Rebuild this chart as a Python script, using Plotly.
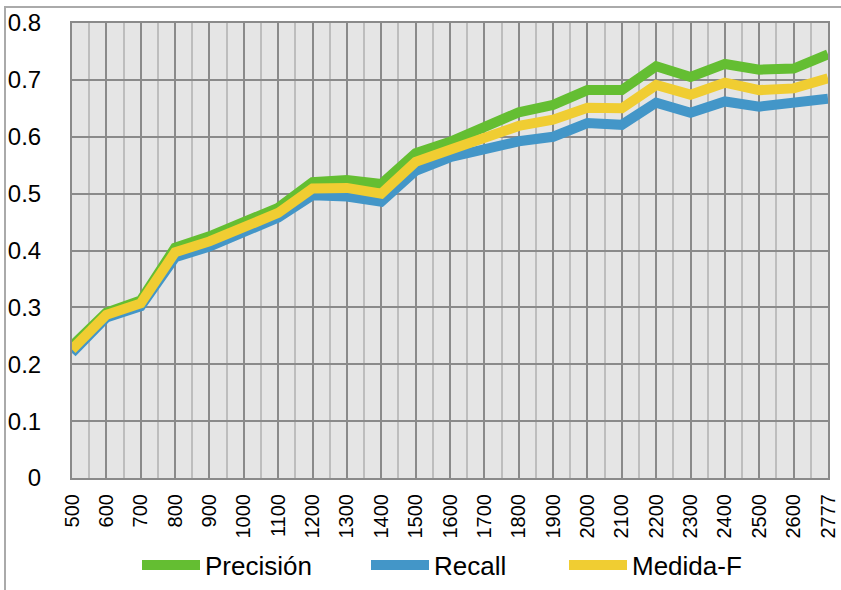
import plotly.graph_objects as go

categories = ["500", "600", "700", "800", "900", "1000", "1100", "1200", "1300", "1400",
              "1500", "1600", "1700", "1800", "1900", "2000", "2100", "2200", "2300",
              "2400", "2500", "2600", "2777"]
precision = [0.232, 0.291, 0.312, 0.405, 0.425, 0.449, 0.475, 0.520, 0.524, 0.517,
             0.571, 0.591, 0.619, 0.643, 0.656, 0.682, 0.682, 0.724, 0.705,
             0.728, 0.718, 0.720, 0.745]
recall = [0.220, 0.282, 0.302, 0.388, 0.407, 0.432, 0.458, 0.497, 0.495, 0.486,
          0.540, 0.564, 0.577, 0.592, 0.600, 0.624, 0.621, 0.660, 0.642,
          0.662, 0.653, 0.660, 0.667]
fmeasure = [0.226, 0.287, 0.307, 0.397, 0.416, 0.440, 0.466, 0.509, 0.510, 0.500,
            0.556, 0.577, 0.598, 0.619, 0.630, 0.651, 0.650, 0.691, 0.674,
            0.695, 0.682, 0.685, 0.703]
series_names = ["Precisión", "Recall", "Medida-F"]
colors = ["#64BE32", "#4396C8", "#F0CD32"]
legend_ids = ["legend", "legend2", "legend3"]
legend_x_px = [137, 366, 564]

L, R, T, B = 72, 13, 23, 112
W, H = 841, 590
pw, ph = W - L - R, H - T - B

idx = list(range(len(categories)))
fig = go.Figure()
for name, vals, c, lg in zip(series_names, [precision, recall, fmeasure], colors, legend_ids):
    fig.add_trace(go.Scatter(x=idx, y=vals, mode="lines", name=name, legend=lg,
                             line=dict(color=c, width=10)))

font_family = "Liberation Sans, Arial, Helvetica, sans-serif"
legend_common = dict(orientation="h", xanchor="left", y=(T + ph - 565) / ph, yanchor="middle",
                     font=dict(size=26, family=font_family, color="black"), itemwidth=58,
                     bgcolor="rgba(0,0,0,0)", borderwidth=0)
legends = {}
for lg, px in zip(legend_ids, legend_x_px):
    legends[lg] = dict(legend_common, x=(px - L) / pw)

fig.update_layout(
    width=W, height=H,
    margin=dict(l=L, r=R, t=T, b=B, autoexpand=False),
    paper_bgcolor="white",
    plot_bgcolor="#E5E5E5",
    font=dict(family=font_family, color="black"),
    showlegend=True,
    xaxis=dict(range=[0, len(categories) - 1], tickmode="array", tickvals=idx,
               ticktext=categories, tickangle=-90, tickfont=dict(size=20),
               showgrid=True, gridcolor="#8A8A8A", gridwidth=2,
               showline=True, linecolor="#8A8A8A", linewidth=2, mirror=True,
               zeroline=False, ticks="", ticklabelstandoff=6, automargin=False,
               minor=dict(tickmode="linear", tick0=0.5, dtick=1, showgrid=True,
                          gridcolor="#BDBDBD", gridwidth=2)),
    yaxis=dict(range=[0, 0.8], dtick=0.1, tick0=0, tickfont=dict(size=24),
               showgrid=True, gridcolor="#8A8A8A", gridwidth=2,
               showline=True, linecolor="#8A8A8A", linewidth=2, mirror=True,
               zeroline=False, ticks="", ticklabelstandoff=24, automargin=False),
    shapes=[dict(type="rect", xref="paper", yref="paper",
                 x0=(5 - L) / pw, x1=(W + 5 - L) / pw, y0=(T + ph - H - 10) / ph,
                 y1=(T + ph - 7) / ph,
                 line=dict(color="#AAAAAA", width=2), fillcolor="rgba(0,0,0,0)",
                 layer="below")],
    **legends,
)
fig.write_html("out.html", config={"displayModeBar": False},
               post_script="document.body.style.margin='0px';document.body.style.padding='0px';")
